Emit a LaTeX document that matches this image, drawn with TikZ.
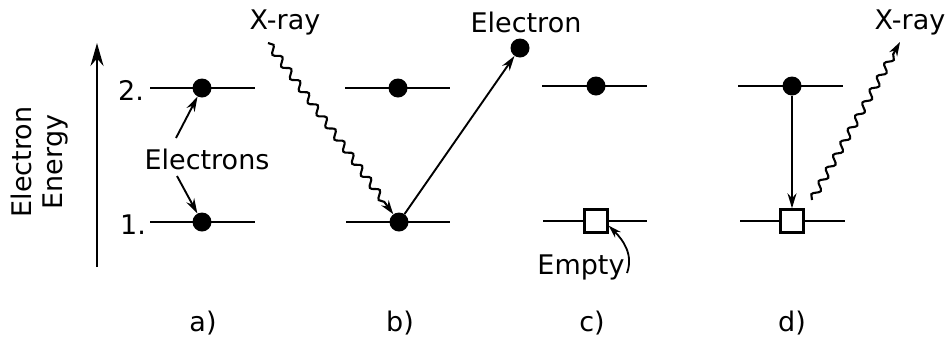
\documentclass[tikz,border=0pt]{standalone}
\usepackage{fontspec}
\setmainfont{DejaVu Sans}
\usetikzlibrary{arrows.meta,decorations.pathmorphing}
\begin{document}
\begin{tikzpicture}[x=1pt,y=-1pt,
  lbl/.style={font=\fontsize{27}{31}\selectfont, inner sep=0pt},
  level/.style={line width=2.6pt},
  dot/.style={circle, fill=black, inner sep=0pt, minimum size=19pt},
  hole/.style={rectangle, draw=black, fill=white, line width=2.4pt, inner sep=0pt, minimum size=23pt},
  arr/.style={line width=1.9pt, -{Stealth[length=15pt,width=9pt]}},
  bigarr/.style={line width=2.2pt, -{Stealth[length=23pt,width=13pt]}},
  wave/.style={line width=2.1pt, decorate, decoration={snake, amplitude=3.4pt, segment length=15pt, post length=12pt}, -{Stealth[length=14pt,width=9pt]}}
]
\useasboundingbox (0,0) rectangle (951,341);
% energy axis
\coordinate (axb) at (97,267);
\coordinate (axt) at (97,43);
\draw[bigarr] (axb) -- (axt);
\node[lbl, rotate=90, align=center] (en) at (40,162) {Electron\\Energy};
% level lines
\draw[level] (150,88) -- (255,88);
\draw[level] (150,222) -- (255,222);
\draw[level] (345,88) -- (450,88);
\draw[level] (346,222) -- (450,222);
\draw[level] (542,86) -- (647,86);
\draw[level] (543,221) -- (647,221);
\draw[level] (738,86) -- (843,86);
\draw[level] (740,221) -- (845,221);
% level labels
\node[lbl] (l2) at (131,90) {2.};
\node[lbl] (l1) at (133,225) {1.};
% a)
\node[dot] (a2) at (202,88) {};
\node[dot] (a1) at (202,222) {};
\node[lbl] (els) at (207,159) {Electrons};
\coordinate (ea) at (176,138);
\coordinate (eb) at (177,176);
\draw[arr] (ea) -- (a2);
\draw[arr] (eb) -- (a1);
% b)
\node[dot] (b2) at (398,88) {};
\node[dot] (b1) at (399,222) {};
\node[dot] (bo) at (520,48) {};
\node[lbl] (xb) at (285,22) {X-ray};
\node[lbl] (elb) at (526,22) {Electron};
\coordinate (xbs) at (268,43);
\draw[wave] (xbs) -- (b1);
\draw[arr] (b1) -- (bo);
% c)
\node[dot] (c2) at (596,86) {};
\node[hole] (c1) at (596,221) {};
\node[lbl] (emp) at (581,267) {Empty};
\coordinate (es) at (627,273);
\draw[line width=1.8pt, -{Stealth[length=13pt,width=8pt]}] (es) to[out=70,in=-45] (c1.-20);
% d)
\node[dot] (d2) at (792,86) {};
\node[hole] (d1) at (792,221) {};
\draw[arr] (d2) -- (d1);
\coordinate (ds) at (812,200);
\coordinate (de) at (900,42);
\draw[wave] (ds) -- (de);
\node[lbl] (xd) at (910,22) {X-ray};
% panel labels
\node[lbl] (pa) at (203,323) {a)};
\node[lbl] (pb) at (400,323) {b)};
\node[lbl] (pc) at (592,323) {c)};
\node[lbl] (pd) at (792,323) {d)};
\end{tikzpicture}
\end{document}
